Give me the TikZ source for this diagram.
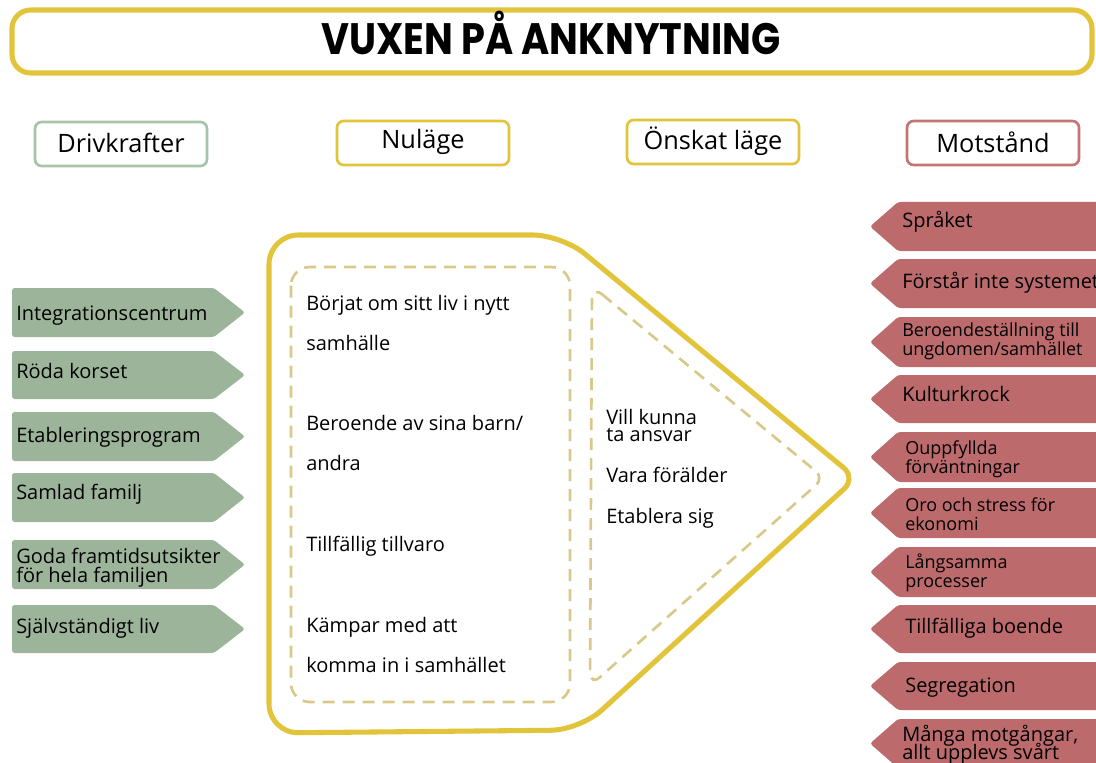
\documentclass[tikz,border=0pt]{standalone}
\usepackage{fontspec}
\setmainfont{Open Sans}
\newfontfamily\titlefont[FakeStretch=0.87]{Poppins}
\definecolor{gold}{HTML}{E1C43A}
\definecolor{goldlight}{HTML}{D8C98A}
\definecolor{sage}{HTML}{9CB59A}
\definecolor{sageline}{HTML}{A8C4A8}
\definecolor{rose}{HTML}{BD6A6D}
\definecolor{roseline}{HTML}{C47676}
\tikzset{
  headbox/.style={line width=2pt, rounded corners=5pt, fill=white},
  headtext/.style={inner sep=0pt, font=\fontsize{19}{21}\selectfont},
  pushshape/.style={fill=sage, rounded corners=2pt},
  pullshape/.style={fill=rose, rounded corners=2pt},
  sidetext/.style={anchor=base west, inner sep=0pt, font=\fontsize{15}{16}\selectfont},
  sidesmall/.style={anchor=base west, inner sep=0pt, font=\fontsize{13.5}{14}\selectfont},
  midtext/.style={anchor=base west, inner sep=0pt, font=\fontsize{15}{16}\selectfont},
  dashline/.style={draw=goldlight, line width=2pt, dash pattern=on 9pt off 6pt},
}
\begin{document}
\begin{tikzpicture}[x=0.75pt,y=-0.75pt]
\useasboundingbox (0,0) rectangle (1096,763);
\clip (0,0) rectangle (1096,763);

% title banner
\draw[gold, line width=3.8pt, rounded corners=14pt] (12,10) rectangle (1092,73);
\node[anchor=base, inner sep=0pt, font=\titlefont\bfseries\fontsize{33}{33}\selectfont] (title) at (551,55) {VUXEN PÅ ANKNYTNING};

% column headings
\draw[headbox, draw=sageline] (35,122) rectangle (207,166);
\node[headtext] (hdrive) at (121,143) {Drivkrafter};
\draw[headbox, draw=gold] (337,121) rectangle (509,165);
\node[headtext] (hnow) at (423,142) {Nuläge};
\draw[headbox, draw=gold] (627,120) rectangle (799,164);
\node[headtext] (hwish) at (713,141) {Önskat läge};
\draw[headbox, draw=roseline] (907,121) rectangle (1079,165);
\node[headtext] (hresist) at (993,142) {Motstånd};

% driving forces (pointing right)
\foreach \t/\b in {288/337, 351/399, 412/461, 473/522, 540/589, 605/653}{
  \fill[pushshape] (12,\t) -- (214,\t) -- (245,{(\t+\b)/2}) -- (214,\b) -- (12,\b) -- cycle;
}
\node[sidetext] (d1) at (16,320) {Integrationscentrum};
\node[sidetext] (d2) at (16,378) {Röda korset};
\node[sidetext] (d3) at (16,442) {Etableringsprogram};
\node[sidetext] (d4) at (16,499) {Samlad familj};
\node[sidetext] (d5a) at (16,563) {Goda framtidsutsikter};
\node[sidetext] (d5b) at (16,582) {för hela familjen};
\node[sidetext] (d6) at (16,633) {Självständigt liv};

% resistance (pointing left)
\foreach \t/\b in {202/251, 259/308, 317/367, 375/423, 432/482, 488/538, 547/597, 605/653, 662/710, 719/768}{
  \fill[pullshape] (1110,\t) -- (898,\t) -- (870,{(\t+\b)/2}) -- (898,\b) -- (1110,\b) -- cycle;
}
\node[sidetext] (r1) at (902,228) {Språket};
\node[sidetext] (r2) at (902,288) {Förstår inte systemet};
\node[sidesmall] (r3a) at (902,336) {Beroendeställning till};
\node[sidesmall] (r3b) at (902,355) {ungdomen/samhället};
\node[sidetext] (r4) at (902,401) {Kulturkrock};
\node[sidesmall] (r5a) at (905,454) {Ouppfyllda};
\node[sidesmall] (r5b) at (905,473) {förväntningar};
\node[sidesmall] (r6a) at (905,511) {Oro och stress för};
\node[sidesmall] (r6b) at (905,530) {ekonomi};
\node[sidesmall] (r7a) at (905,568) {Långsamma};
\node[sidesmall] (r7b) at (905,587) {processer};
\node[sidetext] (r8) at (905,633) {Tillfälliga boende};
\node[sidetext] (r9) at (905,692) {Segregation};
\node[sidetext] (r10a) at (902,741) {Många motgångar,};
\node[sidetext] (r10b) at (902,759) {allt upplevs svårt};

% central pentagon
\draw[gold, line width=3.8pt, rounded corners=22pt]
  (269,235) -- (562,235) [rounded corners=12pt] -- (856,478) [rounded corners=22pt]
  -- (580,730) -- (269,733) -- cycle;
\draw[dashline, rounded corners=14pt] (291,267) rectangle (570,702);
\draw[dashline, rounded corners=10pt]
  (592,286) [rounded corners=8pt] -- (824,478) [rounded corners=10pt] -- (590,686) -- cycle;

% current situation
\node[midtext] (n1a) at (306,310) {Börjat om sitt liv i nytt};
\node[midtext] (n1b) at (306,350) {samhälle};
\node[midtext] (n2a) at (306,430) {Beroende av sina barn/};
\node[midtext] (n2b) at (306,470) {andra};
\node[midtext] (n3) at (306,551) {Tillfällig tillvaro};
\node[midtext] (n4a) at (306,632) {Kämpar med att};
\node[midtext] (n4b) at (306,672) {komma in i samhället};

% desired situation
\node[midtext] (w1a) at (606,424) {Vill kunna};
\node[midtext] (w1b) at (606,441) {ta ansvar};
\node[midtext] (w2) at (606,482) {Vara förälder};
\node[midtext] (w3) at (606,523) {Etablera sig};
\end{tikzpicture}
\end{document}
